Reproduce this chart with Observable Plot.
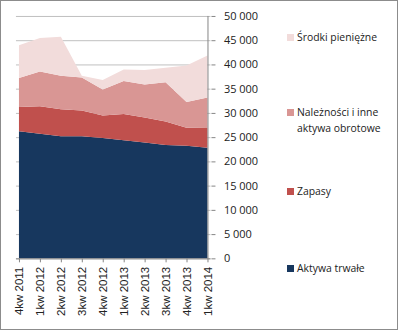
<!DOCTYPE html>
<html><head><meta charset="utf-8">
<script src="https://cdn.jsdelivr.net/npm/d3@7"></script>
<script src="https://cdn.jsdelivr.net/npm/@observablehq/plot@0.6"></script>
<style>
body{margin:0;background:#fff;}
#wrap{position:relative;width:398px;height:330px;box-sizing:border-box;border:1px solid #8c8c8c;overflow:hidden;font-family:"Open Sans",sans-serif;}
#chart{position:absolute;left:-1px;top:-1px;}
.leg{position:absolute;left:286px;font-size:10.4px;color:#222;line-height:16px;}
.leg i{display:inline-block;width:7px;height:7px;margin-right:3px;vertical-align:0px;}
</style></head>
<body><div id="wrap"><div id="chart"></div></div>
<script>
const quarters = ["4kw 2011","1kw 2012","2kw 2012","3kw 2012","4kw 2012","1kw 2013","2kw 2013","3kw 2013","4kw 2013","1kw 2014"];
const seriesNames = ["Aktywa trwałe","Zapasy","Należności i inne aktywa obrotowe","Środki pieniężne"];
const aktywaTrwale = [26200,25700,25200,25200,24800,24350,23900,23400,23200,22800];
const zapasy = [5000,5650,5550,5300,4650,5400,5150,4850,3750,4100];
const naleznosci = [6000,7200,6900,6800,5400,6850,6800,8100,5300,6300];
const srodki = [6750,6900,8050,350,1950,2350,3000,2950,7550,8650];
const yTicks = [0,5000,10000,15000,20000,25000,30000,35000,40000,45000,50000];
const colors = ["#17375e","#c0504d","#d99694","#f2dcdb"];

const seriesValues = [aktywaTrwale, zapasy, naleznosci, srodki];
const data = [];
seriesNames.forEach((s,i)=>quarters.forEach((q,j)=>data.push({q, s, v: seriesValues[i][j]})));

const fmt = d => d3.format(",")(d).replace(/,/g," ");

const chart = Plot.plot({
  width: 398, height: 330,
  marginLeft: 16, marginRight: 187, marginTop: 16, marginBottom: 71,
  style: {fontFamily: "'Open Sans', sans-serif", fontSize: "11px", color: "#222", background: "transparent"},
  x: {type: "point", domain: quarters, padding: 0},
  y: {domain: [0, 50000]},
  color: {domain: seriesNames, range: colors},
  marks: [
    Plot.gridY(yTicks, {stroke: "#c0c0c0", strokeOpacity: 1}),
    Plot.areaY(data, {x: "q", y: "v", fill: "s", order: seriesNames}),
    Plot.ruleY([0], {stroke: "#868686"}),
    Plot.ruleX([quarters[quarters.length-1]], {y1: 0, y2: 50000, stroke: "#868686"}),
    Plot.axisY(yTicks, {anchor: "right", tickFormat: fmt, tickSize: 4, tickPadding: 9, textAnchor: "start", stroke: "#868686", label: null}),
    Plot.axisX({tickSize: 4, tickRotate: -90, tickPadding: 4, stroke: "#868686", label: null, fontFamily: "'Liberation Sans', Arial, sans-serif", fontSize: 11.5})
  ]
});
document.getElementById("chart").appendChild(chart);

const legendPos = [{t: 268}, {t: 191}, {t: 112}, {t: 37}];
const wrap = document.getElementById("wrap");
seriesNames.forEach((s,i)=>{
  const d = document.createElement("div");
  d.className = "leg";
  d.style.top = (legendPos[i].t - 9) + "px";
  if (i === 2) {
    d.innerHTML = `<i style="background:${colors[i]}"></i>Należności i inne<br><span style="padding-left:10px">aktywa obrotowe</span>`;
  } else {
    d.innerHTML = `<i style="background:${colors[i]}"></i>${s}`;
  }
  wrap.appendChild(d);
});
</script>
</body></html>
